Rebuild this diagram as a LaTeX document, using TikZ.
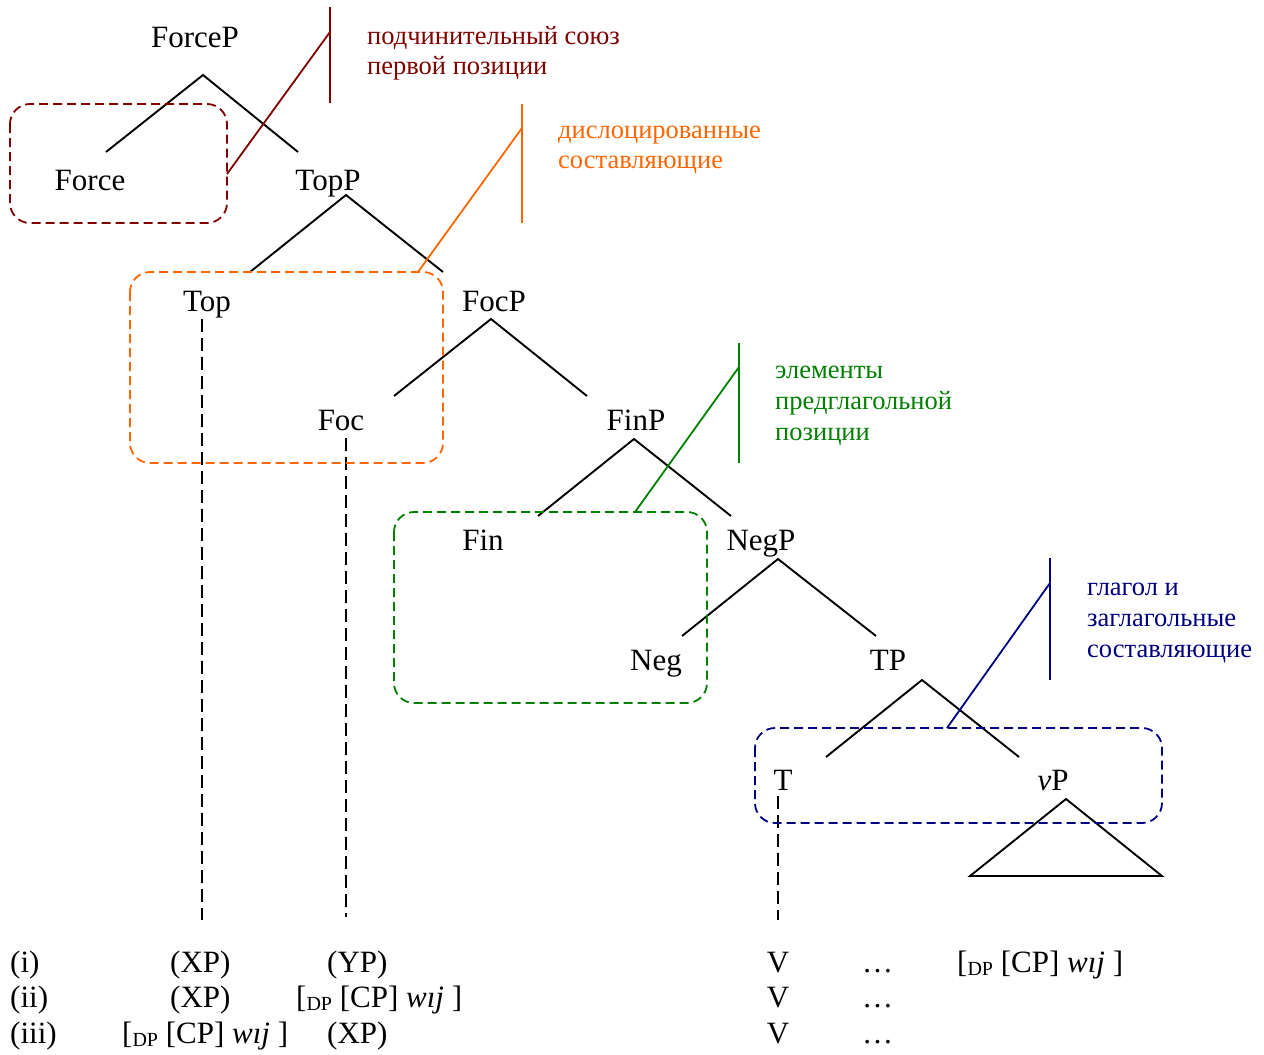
\documentclass[tikz,border=0pt]{standalone}
\usepackage{fontspec}
\setmainfont{Liberation Serif}
\definecolor{cred}{RGB}{128,0,0}
\definecolor{corange}{RGB}{255,102,0}
\definecolor{cgreen}{RGB}{0,128,0}
\definecolor{cblue}{RGB}{0,0,128}
\newcommand\dpcp{[\raisebox{-0.12em}{\fontsize{20}{20}\selectfont DP} [CP] \textit{wıj} ]}
\begin{document}
\begin{tikzpicture}[x=1pt,y=-1pt,
  lab/.style={inner sep=0pt,anchor=base,font=\fontsize{31}{36}\selectfont},
  row/.style={inner sep=0pt,anchor=base west,font=\fontsize{31}{36}\selectfont},
  note/.style={inner sep=0pt,anchor=base west,font=\fontsize{26.5}{31}\selectfont},
  branch/.style={line width=1.9pt},
  trace/.style={line width=1.9pt,dash pattern=on 13pt off 6pt},
  dbox/.style={line width=1.8pt,dash pattern=on 9pt off 5pt,rounded corners=20pt},
  tick/.style={line width=1.8pt}]
\useasboundingbox (0,0) rectangle (1264,1055);

% tree labels
\node[lab] (forcep) at (195,47) {ForceP};
\node[lab] (force)  at (90,190) {Force};
\node[lab] (topp)   at (328,190) {TopP};
\node[lab] (top)    at (207,311) {Top};
\node[lab] (focp)   at (494,311) {FocP};
\node[lab] (foc)    at (341,430) {Foc};
\node[lab] (finp)   at (636,430) {FinP};
\node[lab] (fin)    at (483,550) {Fin};
\node[lab] (negp)   at (761,550) {NegP};
\node[lab] (neg)    at (656,670) {Neg};
\node[lab] (tp)     at (888,670) {TP};
\node[lab] (t)      at (783,790) {T};
\node[lab] (vp)     at (1053,790) {\textit{v}P};

% branch points
\coordinate (forcep-a) at (203,75);
\coordinate (forcep-l) at (106,152);
\coordinate (forcep-r) at (298,152);
\coordinate (topp-a) at (346,195);
\coordinate (topp-l) at (250,272);
\coordinate (topp-r) at (443,272);
\coordinate (focp-a) at (491,319);
\coordinate (focp-l) at (394,396);
\coordinate (focp-r) at (587,396);
\coordinate (finp-a) at (634,439);
\coordinate (finp-l) at (538,516);
\coordinate (finp-r) at (731,516);
\coordinate (negp-a) at (778,559);
\coordinate (negp-l) at (682,636);
\coordinate (negp-r) at (876,636);
\coordinate (tp-a) at (922,680);
\coordinate (tp-l) at (826,757);
\coordinate (tp-r) at (1019,757);
\coordinate (vp-a) at (1066,799);
\coordinate (vp-l) at (970,876);
\coordinate (vp-r) at (1162,876);

\draw[branch] (forcep-l) -- (forcep-a) -- (forcep-r);
\draw[branch] (topp-l) -- (topp-a) -- (topp-r);
\draw[branch] (focp-l) -- (focp-a) -- (focp-r);
\draw[branch] (finp-l) -- (finp-a) -- (finp-r);
\draw[branch] (negp-l) -- (negp-a) -- (negp-r);
\draw[branch] (tp-l) -- (tp-a) -- (tp-r);
\draw[branch] (vp-l) -- (vp-a) -- (vp-r) -- cycle;

% traces down to the linear orders
\coordinate (top-s) at (202,319);  \coordinate (top-e) at (202,920);
\coordinate (foc-s) at (346,438);  \coordinate (foc-e) at (346,917);
\coordinate (t-s)   at (778,796);  \coordinate (t-e)   at (778,920);
\draw[trace] (top-s) -- (top-e);
\draw[trace] (foc-s) -- (foc-e);
\draw[trace] (t-s) -- (t-e);

% domains
\draw[dbox,cred]    (10,104)  rectangle (227,223);
\draw[dbox,corange] (130,272) rectangle (443,463);
\draw[dbox,cgreen]  (394,512) rectangle (707,703);
\draw[dbox,cblue]   (755,728) rectangle (1162,823);

% callouts
\coordinate (r-top) at (330,7);   \coordinate (r-bot) at (330,103);
\coordinate (r-j) at (330,32);    \coordinate (r-tip) at (227,174);
\draw[tick,cred] (r-top) -- (r-bot);
\draw[tick,cred] (r-j) -- (r-tip);

\coordinate (o-top) at (522,104); \coordinate (o-bot) at (522,223);
\coordinate (o-j) at (522,128);   \coordinate (o-tip) at (418,272);
\draw[tick,corange] (o-top) -- (o-bot);
\draw[tick,corange] (o-j) -- (o-tip);

\coordinate (g-top) at (739,343); \coordinate (g-bot) at (739,463);
\coordinate (g-j) at (739,367);   \coordinate (g-tip) at (635,512);
\draw[tick,cgreen] (g-top) -- (g-bot);
\draw[tick,cgreen] (g-j) -- (g-tip);

\coordinate (b-top) at (1050,558); \coordinate (b-bot) at (1050,680);
\coordinate (b-j) at (1050,583);   \coordinate (b-tip) at (947,728);
\draw[tick,cblue] (b-top) -- (b-bot);
\draw[tick,cblue] (b-j) -- (b-tip);

% callout texts
\node[note,text=cred] (r1) at (367,44) {подчинительный союз};
\node[note,text=cred] (r2) at (367,74) {первой позиции};
\node[note,text=corange] (o1) at (558,138) {дислоцированные};
\node[note,text=corange] (o2) at (558,168) {составляющие};
\node[note,text=cgreen] (g1) at (775,378) {элементы};
\node[note,text=cgreen] (g2) at (775,409) {предглагольной};
\node[note,text=cgreen] (g3) at (775,440) {позиции};
\node[note,text=cblue] (b1) at (1087,595) {глагол и};
\node[note,text=cblue] (b2) at (1087,626) {заглагольные};
\node[note,text=cblue] (b3) at (1087,657) {составляющие};

% linear orders
\node[row] (i0) at (10,972) {(i)};
\node[row] (i1) at (170,972) {(XP)};
\node[row] (i2) at (327,972) {(YP)};
\node[lab] (i3) at (778,972) {V};
\node[row] (i4) at (862,972) {…};
\node[row] (i5) at (957,972) {\dpcp};

\node[row] (ii0) at (10,1007) {(ii)};
\node[row] (ii1) at (170,1007) {(XP)};
\node[row] (ii2) at (296,1007) {\dpcp};
\node[lab] (ii3) at (778,1007) {V};
\node[row] (ii4) at (862,1007) {…};

\node[row] (iii0) at (10,1043) {(iii)};
\node[row] (iii1) at (122,1043) {\dpcp};
\node[row] (iii2) at (327,1043) {(XP)};
\node[lab] (iii3) at (778,1043) {V};
\node[row] (iii4) at (862,1043) {…};
\end{tikzpicture}
\end{document}
